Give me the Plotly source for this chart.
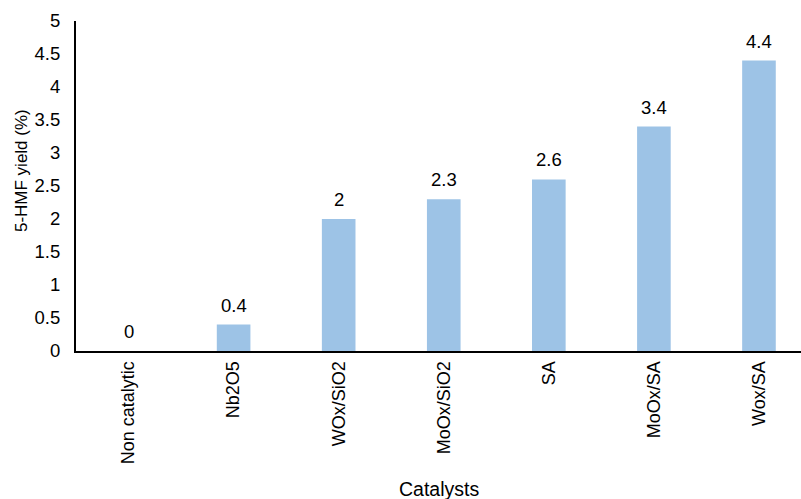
import plotly.graph_objects as go

categories = ["Non catalytic", "Nb2O5", "WOx/SiO2", "MoOx/SiO2", "SA", "MoOx/SA", "Wox/SA"]
yields = [0, 0.4, 2, 2.3, 2.6, 3.4, 4.4]
y_ticks = [0, 0.5, 1, 1.5, 2, 2.5, 3, 3.5, 4, 4.5, 5]

fam = "Liberation Sans, Arial, sans-serif"
tick_font = dict(family=fam, size=18, color="#000000")
label_font = dict(family=fam, size=18.5, color="#000000")

fig = go.Figure()
fig.add_trace(go.Bar(
    x=categories, y=yields, marker=dict(color="#9DC3E6", line=dict(width=0)),
    width=0.32, showlegend=False, hoverinfo="x+y",
))
for c, v in zip(categories, yields):
    fig.add_annotation(x=c, y=v, text=f"{v:g}", showarrow=False, yanchor="bottom",
                       yshift=7, font=label_font)

# axis titles
fig.add_annotation(text="Catalysts", xref="paper", yref="paper", x=0.5, y=-0.418,
                   xanchor="center", yanchor="middle", showarrow=False,
                   font=dict(family=fam, size=19.5, color="#000000"))
fig.add_annotation(text="5-HMF yield (%)", xref="paper", yref="paper", x=-0.076, y=0.548,
                   xanchor="center", yanchor="middle", textangle=-90, showarrow=False,
                   font=dict(family=fam, size=17, color="#000000"))

fig.update_layout(
    width=801, height=499,
    margin=dict(l=76, r=0, t=21, b=148),
    paper_bgcolor="white", plot_bgcolor="white",
    font=tick_font,
    xaxis=dict(
        range=[-0.5, 6.4], tickangle=-90, showline=True, linecolor="black", linewidth=2,
        showgrid=False, ticks="", ticklabelstandoff=1, tickfont=tick_font,
    ),
    yaxis=dict(
        range=[0, 5], tickvals=y_ticks, ticktext=[f"{t:g}" for t in y_ticks],
        showline=True, linecolor="black", linewidth=2, showgrid=False, zeroline=False,
        ticks="", ticklabelstandoff=10, tickfont=dict(family=fam, size=18.5, color="#000000"),
    ),
)
fig.write_html("out.html")
